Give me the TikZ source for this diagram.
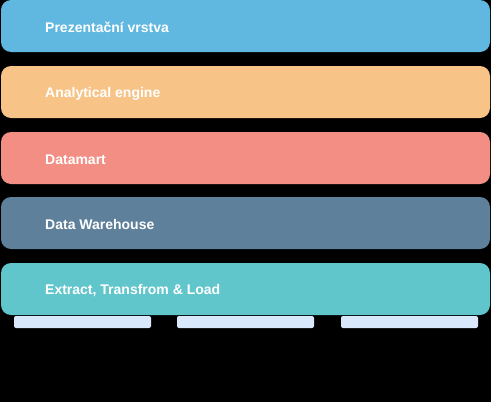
\documentclass[tikz,border=0pt]{standalone}
\usepackage{fontspec}
\setmainfont{Liberation Sans}
\definecolor{cpres}{HTML}{60B8E0}
\definecolor{cana}{HTML}{F7C387}
\definecolor{cdm}{HTML}{F28E84}
\definecolor{cdw}{HTML}{5F809A}
\definecolor{cetl}{HTML}{61C6CC}
\definecolor{csrc}{HTML}{DAE8FC}
\begin{document}
\begin{tikzpicture}[x=1pt,y=-1pt,
  layer/.style={rounded corners=10pt},
  lbl/.style={anchor=west,text=white,font=\fontsize{14}{16}\selectfont\bfseries,inner sep=0pt},
  src/.style={fill=csrc,rounded corners=2pt}]
\fill[black] (0,0) rectangle (491,402);
\useasboundingbox (0,0) rectangle (491,402);
\fill[layer,cpres] (1,0) rectangle (490,52);
\node[lbl] (t1) at (45,27.5) {Prezentační vrstva};
\fill[layer,cana] (1,66) rectangle (490,118);
\node[lbl] (t2) at (45,93.5) {Analytical engine};
\fill[layer,cdm] (1,132) rectangle (490,184);
\node[lbl] (t3) at (45,159.5) {Datamart};
\fill[layer,cdw] (1,197) rectangle (490,249);
\node[lbl] (t4) at (45,224.5) {Data Warehouse};
\fill[layer,cetl] (1,263) rectangle (490,315);
\node[lbl] (t5) at (45,290.5) {Extract, Transfrom \& Load};
\fill[src] (14,316) rectangle (151,328);
\fill[src] (177,316) rectangle (314,328);
\fill[src] (341,316) rectangle (478,328);
\end{tikzpicture}
\end{document}
